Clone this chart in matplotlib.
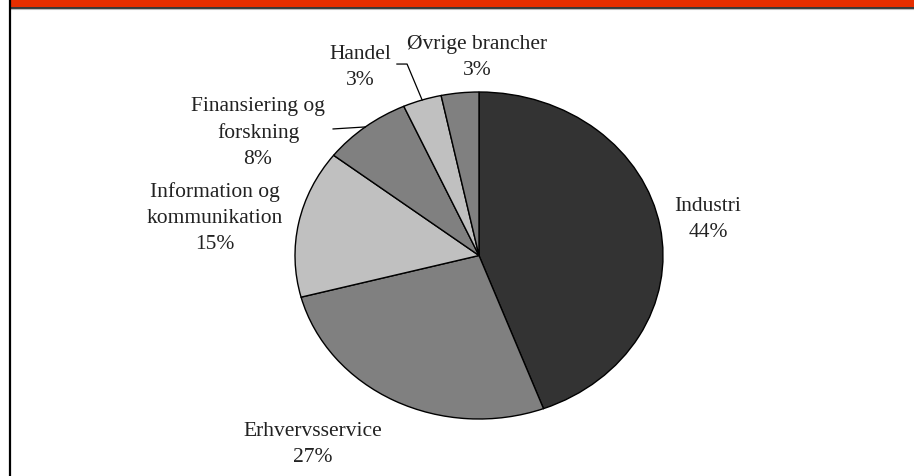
import matplotlib.pyplot as plt
import numpy as np

# --- data ---
categories = ['Industri', 'Erhvervsservice', 'Information og\nkommunikation',
              'Finansiering og\nforskning', 'Handel', 'Øvrige brancher']
shares = [44.3, 26.6, 14.6, 7.8, 3.4, 3.3]
slice_colors = ['#333333', '#808080', '#c0c0c0', '#808080', '#c0c0c0', '#808080']

# label centres in pie units (radius 1, ellipse stretched to fit the box)
label_pos = [(1.245, 0.229), (-0.902, -1.147), (-1.435, 0.235),
             (-1.201, 0.755), (-0.647, 1.159), (-0.011, 1.220)]

W, H = 914, 477
fig = plt.figure(figsize=(W / 100, H / 100), dpi=100)
fig.patch.set_facecolor('white')

# header bar and left border
fig.add_artist(plt.Rectangle((10 / W, 1 - 8 / H), 1, 8 / H, transform=fig.transFigure,
                             facecolor='#e62e00', edgecolor='none'))
fig.add_artist(plt.Line2D([10 / W, 1], [1 - 8.5 / H, 1 - 8.5 / H], transform=fig.transFigure,
                          color='#111111', linewidth=1.2))
fig.add_artist(plt.Line2D([10 / W, 1], [1 - 9.8 / H, 1 - 9.8 / H], transform=fig.transFigure,
                          color='#bbbbbb', linewidth=0.8))
fig.add_artist(plt.Line2D([10 / W, 10 / W], [0, 1], transform=fig.transFigure,
                          color='black', linewidth=1.6))

# pie box in pixels: x 295..663, y 93..420
ax = fig.add_axes([295 / W, (H - 420) / H, 368 / W, 327 / H])
wedges, _ = ax.pie(shares, colors=slice_colors, startangle=90, counterclock=False,
                   wedgeprops=dict(edgecolor='black', linewidth=1.0))
ax.set_aspect('auto')
ax.set_xlim(-1, 1)
ax.set_ylim(-1, 1)
ax.axis('off')

font = dict(family=['Liberation Serif', 'DejaVu Serif'], size=15.5, color='#222222')
for name, val, (lx, ly) in zip(categories, shares, label_pos):
    ax.text(lx, ly, f'{name}\n{round(val):d}%', ha='center', va='center',
            linespacing=1.5, clip_on=False, **font)

# leader lines for the two small / offset slices
def edge_point(w):
    th = np.deg2rad((w.theta1 + w.theta2) / 2)
    return np.cos(th), np.sin(th)

fx, fy = edge_point(wedges[3])
ax.plot([-0.793, fx], [0.774, fy], color='black', linewidth=0.9, clip_on=False)
hx, hy = edge_point(wedges[4])
ax.plot([-0.446, -0.391, hx], [1.171, 1.171, hy], color='black', linewidth=0.9, clip_on=False)

fig.savefig('out.png', dpi=100)
